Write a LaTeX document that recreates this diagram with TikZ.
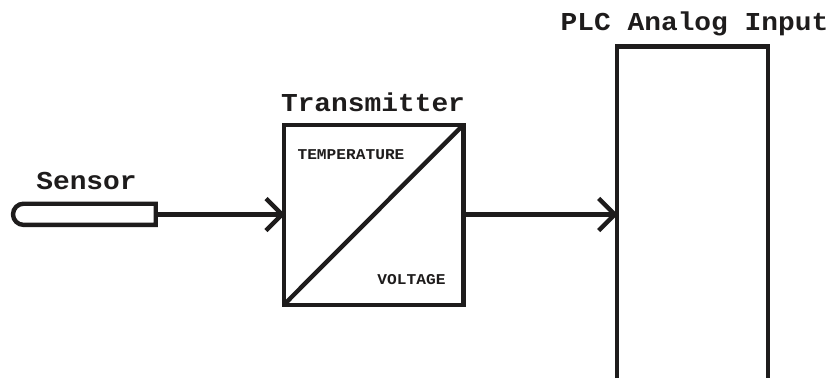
\documentclass[tikz,border=0pt]{standalone}
\usepackage{fontspec}
\setmainfont{Liberation Mono}
\newfontfamily\widemono[FakeStretch=1.08]{Liberation Mono}
\definecolor{ink}{HTML}{1E1C1C}
\tikzset{
 ln/.style={line width=4.4pt,draw=ink},
 ttl/.style={font=\widemono\bfseries\fontsize{25.8}{28}\selectfont,inner sep=0pt,text=ink},
 small/.style={font=\widemono\bfseries\fontsize{15}{17}\selectfont,inner sep=0pt,text=ink},
 chev/.style={ln,line cap=butt,line join=miter}
}
\begin{document}
\begin{tikzpicture}[x=1pt,y=-1pt]
\useasboundingbox (0,0) rectangle (831,378);
\node[ln,draw,minimum width=179.5pt,minimum height=180pt,inner sep=0pt,outer sep=0pt] (tx) at (373.7,214.7) {};
\draw[ln] (tx.south west) -- (tx.north east);
\draw[ln] (155.7,203.7) -- (23.6,203.7) arc[start angle=270,end angle=90,radius=10.6] -- (155.7,224.9) -- cycle;
\draw[ln] (616.7,378) -- (616.7,46.5) -- (768,46.5) -- (768,378);
\coordinate (sr) at (155.7,214.5);
\coordinate (pl) at (616.7,214.5);
\draw[ln] (sr) -- (tx.west |- sr);
\draw[ln] (tx.east |- sr) -- (pl);
\draw[chev] (266,198.5) -- (282,214.5) -- (266,230.5);
\draw[chev] (598.7,198.5) -- (614.7,214.5) -- (598.7,230.5);
\node[ttl] (a) at (86.5,181) {Sensor};
\node[ttl] (b) at (373,102) {Transmitter};
\node[ttl] (c) at (694.5,24) {PLC Analog Input};
\node[small] (d) at (351,154.5) {TEMPERATURE};
\node[small] (e) at (411.5,279.5) {VOLTAGE};
\end{tikzpicture}
\end{document}
